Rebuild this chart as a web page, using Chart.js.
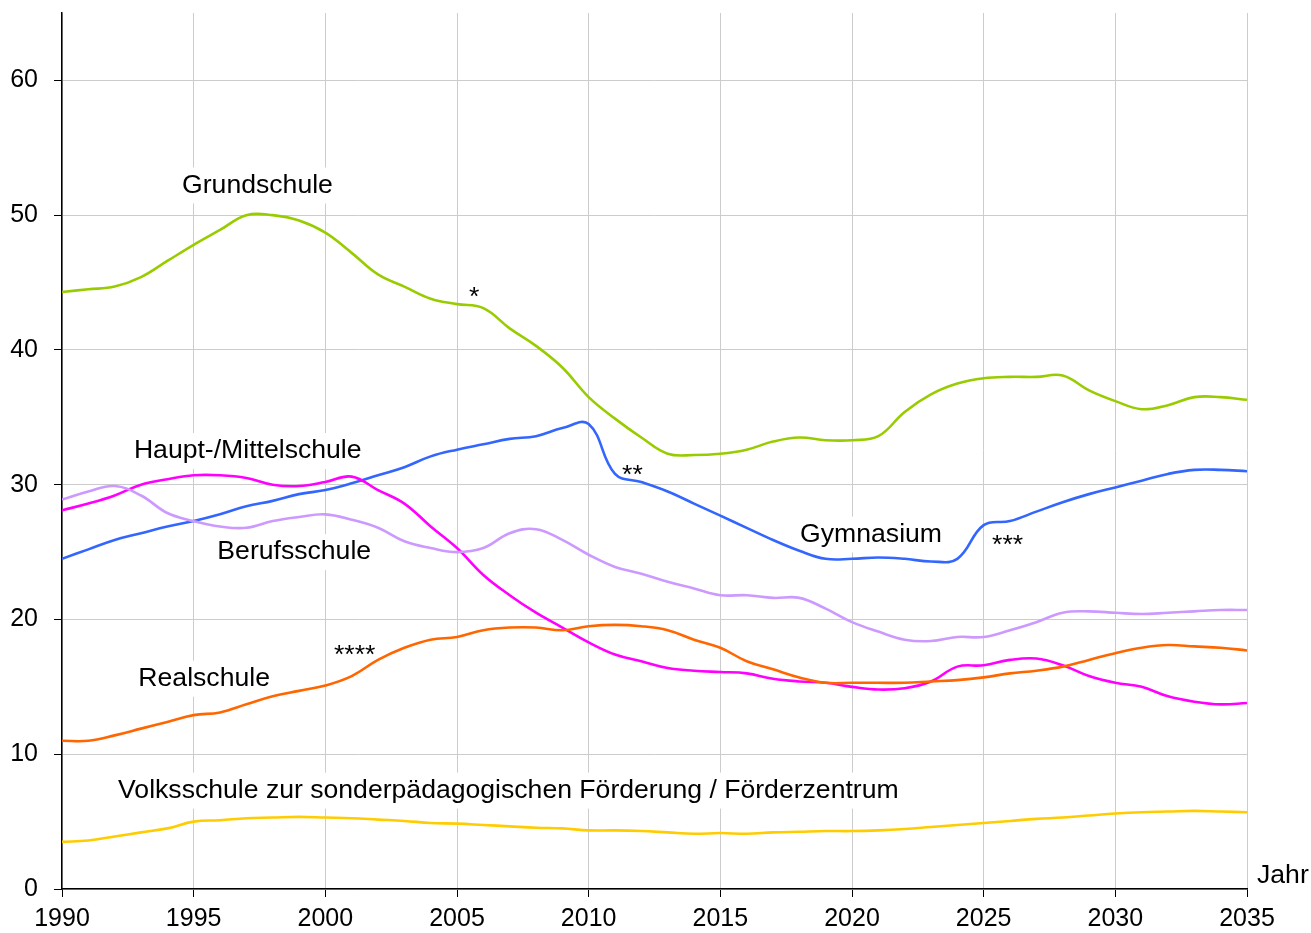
<!DOCTYPE html>
<html lang="de">
<head>
<meta charset="utf-8">
<title>Schüler nach Schulart</title>
<script src="https://cdn.jsdelivr.net/npm/chart.js@4.4.1/dist/chart.umd.min.js"></script>
<style>
  html, body { margin: 0; padding: 0; background: #fff; }
  #wrap { width: 1311px; height: 933px; }
</style>
</head>
<body>
<div id="wrap"><canvas id="grafik" width="1311" height="933"></canvas></div>
<script>
// Jahre (x-Achse)
const jahre = [1990, 1991, 1992, 1993, 1994, 1995, 1996, 1997, 1998, 1999,
  2000, 2001, 2002, 2003, 2004, 2005, 2006, 2007, 2008, 2009,
  2010, 2011, 2012, 2013, 2014, 2015, 2016, 2017, 2018, 2019,
  2020, 2021, 2022, 2023, 2024, 2025, 2026, 2027, 2028, 2029,
  2030, 2031, 2032, 2033, 2034, 2035];

// Werte je Schulart
const grundschule = [44.3, 44.5, 44.7, 45.4, 46.6, 47.8, 48.9, 50.0, 50.0, 49.6,
  48.7, 47.2, 45.6, 44.7, 43.8, 43.4, 43.1, 41.6, 40.3, 38.7,
  36.5, 34.9, 33.5, 32.3, 32.2, 32.3, 32.6, 33.2, 33.5, 33.3,
  33.3, 33.6, 35.4, 36.7, 37.5, 37.9, 38.0, 38.0, 38.1, 37.0,
  36.2, 35.6, 35.9, 36.5, 36.5, 36.3];
const gymnasium = [24.5, 25.2, 25.9, 26.4, 26.9, 27.3, 27.8, 28.4, 28.8, 29.3,
  29.6, 30.1, 30.7, 31.3, 32.1, 32.6, 33.0, 33.4, 33.6, 34.2,
  34.5, 30.8, 30.2, 29.5, 28.6, 27.7, 26.8, 25.9, 25.1, 24.5,
  24.5, 24.6, 24.5, 24.3, 24.5, 27.0, 27.3, 28.0, 28.7, 29.3,
  29.8, 30.3, 30.8, 31.1, 31.1, 31.0];
const hauptschule = [28.1, 28.6, 29.2, 30.0, 30.4, 30.7, 30.7, 30.5, 30.0, 29.9,
  30.2, 30.6, 29.6, 28.6, 26.9, 25.3, 23.3, 21.8, 20.5, 19.4,
  18.3, 17.4, 16.9, 16.4, 16.2, 16.1, 16.0, 15.6, 15.4, 15.3,
  15.0, 14.8, 14.9, 15.4, 16.5, 16.6, 17.0, 17.1, 16.6, 15.8,
  15.3, 15.0, 14.3, 13.9, 13.7, 13.8];
const realschule = [11.0, 11.0, 11.4, 11.9, 12.4, 12.9, 13.1, 13.7, 14.3, 14.7,
  15.1, 15.8, 17.0, 17.9, 18.5, 18.7, 19.2, 19.4, 19.4, 19.2,
  19.5, 19.6, 19.5, 19.2, 18.5, 17.9, 16.9, 16.3, 15.7, 15.3,
  15.3, 15.3, 15.3, 15.4, 15.5, 15.7, 16.0, 16.2, 16.5, 17.0,
  17.5, 17.9, 18.1, 18.0, 17.9, 17.7];
const berufsschule = [28.9, 29.5, 29.9, 29.2, 27.9, 27.3, 26.9, 26.8, 27.3, 27.6,
  27.8, 27.4, 26.8, 25.8, 25.3, 25.0, 25.3, 26.4, 26.7, 25.9,
  24.8, 23.9, 23.4, 22.8, 22.3, 21.8, 21.8, 21.6, 21.6, 20.8,
  19.8, 19.1, 18.5, 18.4, 18.7, 18.7, 19.2, 19.8, 20.5, 20.6,
  20.5, 20.4, 20.5, 20.6, 20.7, 20.7];
const foerderschule = [3.5, 3.6, 3.9, 4.2, 4.5, 5.0, 5.1, 5.25, 5.3, 5.35,
  5.3, 5.25, 5.15, 5.05, 4.9, 4.85, 4.75, 4.65, 4.55, 4.5,
  4.35, 4.35, 4.3, 4.2, 4.1, 4.15, 4.1, 4.2, 4.25, 4.3,
  4.3, 4.35, 4.45, 4.6, 4.75, 4.9, 5.05, 5.2, 5.3, 5.45,
  5.6, 5.7, 5.75, 5.8, 5.75, 5.7];

// Beschriftungen im Diagramm (Jahr / Wert der linken Kante)
const beschriftungen = [
  { text: 'Grundschule', jahr: 1994.56, wert: 52.2, box: true },
  { text: '*', jahr: 2005.46, wert: 43.9 },
  { text: 'Haupt-/Mittelschule', jahr: 1992.73, wert: 32.5, box: true },
  { text: '**', jahr: 2011.27, wert: 30.7 },
  { text: 'Gymnasium', jahr: 2018.03, wert: 26.3, box: true },
  { text: '***', jahr: 2025.32, wert: 25.5 },
  { text: 'Berufsschule', jahr: 1995.9, wert: 25.0, box: true },
  { text: '****', jahr: 2000.33, wert: 17.3 },
  { text: 'Realschule', jahr: 1992.9, wert: 15.6, box: true },
  { text: 'Volksschule zur sonderpädagogischen Förderung / Förderzentrum', jahr: 1992.13, wert: 7.3, box: true },
  { text: 'Jahr', jahr: 2035.38, wert: 1.0 }
];

const schrift = '"Liberation Sans", Arial, Helvetica, sans-serif';

// Zeichnet die Texte unter die Linien
const textPlugin = {
  id: 'textPlugin',
  beforeDatasetsDraw(chart) {
    const { ctx, scales: { x, y } } = chart;
    ctx.save();
    ctx.font = '26.6px ' + schrift;
    ctx.textBaseline = 'middle';
    ctx.textAlign = 'left';
    beschriftungen.forEach(b => {
      const px = x.getPixelForValue(b.jahr);
      const py = y.getPixelForValue(b.wert);
      const w = ctx.measureText(b.text).width;
      if (b.box) {
        ctx.fillStyle = '#ffffff';
        ctx.fillRect(px - 4, py - 18, w + 8, 36);
      }
      ctx.fillStyle = '#000000';
      ctx.fillText(b.text, px, py);
    });
    ctx.restore();
  }
};

function serie(label, daten, farbe) {
  return {
    label,
    data: daten.map((v, i) => ({ x: jahre[i], y: v })),
    borderColor: farbe,
    backgroundColor: farbe,
    borderWidth: 2.6,
    pointRadius: 0,
    tension: 0.4,
    fill: false
  };
}

new Chart(document.getElementById('grafik'), {
  type: 'line',
  data: {
    datasets: [
      serie('Volksschule zur sonderpädagogischen Förderung / Förderzentrum', foerderschule, '#ffcc00'),
      serie('Berufsschule', berufsschule, '#cc99ff'),
      serie('Realschule', realschule, '#ff6600'),
      serie('Haupt-/Mittelschule', hauptschule, '#ff00ff'),
      serie('Gymnasium', gymnasium, '#3366ff'),
      serie('Grundschule', grundschule, '#99cc00')
    ]
  },
  options: {
    responsive: false,
    animation: false,
    layout: { padding: { top: 13, right: 64, left: 0, bottom: 0 } },
    plugins: {
      legend: { display: false },
      tooltip: { enabled: false }
    },
    scales: {
      x: {
        type: 'linear',
        min: 1990,
        max: 2035,
        afterFit: s => { s.height = 44; s.paddingLeft = 0; s.paddingRight = 0; },
        ticks: {
          stepSize: 5,
          padding: 7,
          color: '#000',
          font: { family: schrift, size: 25 },
          callback: v => String(v),
          maxRotation: 0
        },
        grid: { color: '#cccccc', lineWidth: 1, tickLength: 8, tickColor: '#000' },
        border: { color: '#000', width: 1.5 }
      },
      y: {
        min: 0,
        max: 65,
        afterFit: s => { s.width = 62; s.paddingTop = 0; s.paddingBottom = 0; },
        afterBuildTicks: s => { s.ticks = s.ticks.filter(t => t.value % 10 === 0); },
        ticks: {
          stepSize: 10,
          padding: 16,
          color: '#000',
          font: { family: schrift, size: 25 }
        },
        grid: { color: '#cccccc', lineWidth: 1, tickLength: 8, tickColor: '#000' },
        border: { color: '#000', width: 1.5 }
      }
    }
  },
  plugins: [textPlugin]
});
</script>
</body>
</html>
